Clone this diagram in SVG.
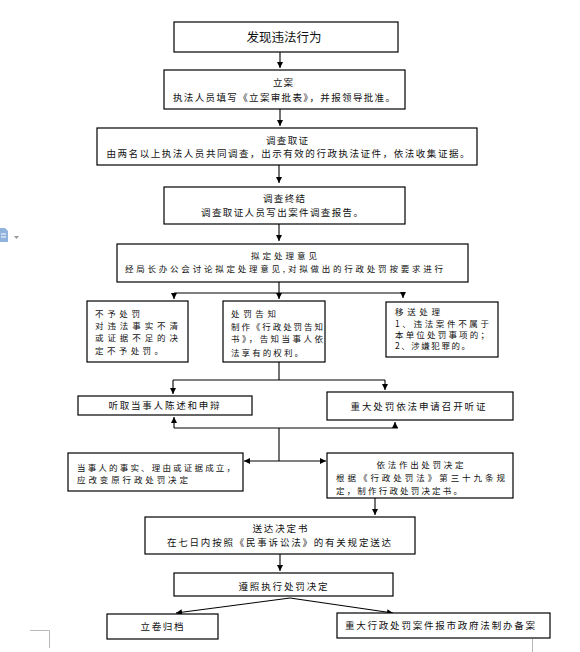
<svg xmlns="http://www.w3.org/2000/svg" width="580" height="652" viewBox="0 0 580 652">
<style>
.box{fill:#fff;stroke:#000;stroke-width:1.2}
.t{font-family:"Noto Sans CJK SC","Noto Sans",sans-serif;font-size:9.5px;fill:#111}
.s{font-size:8.5px}
.c{text-anchor:middle}
.l{text-anchor:start}
.ln{fill:none;stroke:#000;stroke-width:1.1}
.g{fill:none;stroke:#b8b8b8;stroke-width:1}
</style>
<defs>
<marker id="ah" viewBox="0 0 10 10" refX="10" refY="5" markerWidth="6" markerHeight="6" orient="auto" markerUnits="userSpaceOnUse">
<path d="M0,0 L10,5 L0,10 z" fill="#000"/>
</marker>
</defs>
<rect width="580" height="652" fill="#fff"/>
<g id="page-artifacts">
<path d="M0,228 h5 l3,3 v11 h-8 z" fill="#8fb3dd"/>
<path d="M1,234 h5 M1,237 h5" stroke="#fff" stroke-width="1"/>
<path d="M14,236 h5 l-2.5,3 z" fill="#999"/>
<path class="g" d="M30,630.5 H49.5 V648"/>
<path class="g" d="M532.5,639 V652"/>
</g>
<g id="connectors">
<path class="ln" d="M280,52 V68" marker-end="url(#ah)"/>
<path class="ln" d="M280,109 V126" marker-end="url(#ah)"/>
<path class="ln" d="M279,165 V183" marker-end="url(#ah)"/>
<path class="ln" d="M279,224 V241" marker-end="url(#ah)"/>
<path class="ln" d="M279,282 V293 M174,293 H403"/>
<path class="ln" d="M174,293 V299" marker-end="url(#ah)"/>
<path class="ln" d="M279,293 V299" marker-end="url(#ah)"/>
<path class="ln" d="M403,293 V298" marker-end="url(#ah)"/>
<path class="ln" d="M279,362 V380 M173,380 H385"/>
<path class="ln" d="M173,380 V394" marker-end="url(#ah)"/>
<path class="ln" d="M385,380 V390" marker-end="url(#ah)"/>
<path class="ln" d="M174,428 H398 M279,428 V461"/>
<path class="ln" d="M174,428 V417" marker-end="url(#ah)"/>
<path class="ln" d="M395,428 V422" marker-end="url(#ah)"/>
<path class="ln" d="M279,461 H244" marker-end="url(#ah)"/>
<path class="ln" d="M279,461 H326" marker-end="url(#ah)"/>
<path class="ln" d="M375,498 V515" marker-end="url(#ah)"/>
<path class="ln" d="M280,554 V571" marker-end="url(#ah)"/>
<path class="ln" d="M290,598 L176,613" marker-end="url(#ah)"/>
<path class="ln" d="M290,598 L393,613" marker-end="url(#ah)"/>
</g>
<g id="n1">
<rect class="box" x="174" y="22" width="224" height="30"/>
<text class="t c" x="284" y="42" style="font-size:12.5px" textLength="75" lengthAdjust="spacing">发现违法行为</text>
</g>
<g id="n2">
<rect class="box" x="164" y="70" width="241" height="39"/>
<text class="t c" x="283" y="86" textLength="20" lengthAdjust="spacing">立案</text>
<text class="t c" x="284" y="101" textLength="222" lengthAdjust="spacing">执法人员填写《立案审批表》，并报领导批准。</text>
</g>
<g id="n3">
<rect class="box" x="97" y="128" width="380" height="37"/>
<text class="t c" x="287" y="144" textLength="42" lengthAdjust="spacing">调查取证</text>
<text class="t c" x="288" y="157" textLength="363" lengthAdjust="spacing">由两名以上执法人员共同调查，出示有效的行政执法证件，依法收集证据。</text>
</g>
<g id="n4">
<rect class="box" x="164" y="187" width="241" height="37"/>
<text class="t c" x="284" y="202" textLength="42" lengthAdjust="spacing">调查终结</text>
<text class="t c" x="282" y="216" textLength="162" lengthAdjust="spacing">调查取证人员写出案件调查报告。</text>
</g>
<g id="n5">
<rect class="box" x="117" y="244" width="351" height="38"/>
<text class="t s c" x="284" y="259" textLength="66" lengthAdjust="spacing">拟定处理意见</text>
<text class="t s c" x="284" y="272" textLength="318" lengthAdjust="spacing">经局长办公会讨论拟定处理意见,对拟做出的行政处罚按要求进行</text>
</g>
<g id="n6a">
<rect class="box" x="87" y="301" width="101" height="61"/>
<text class="t s l" x="95" y="317" textLength="45" lengthAdjust="spacing">不予处罚</text>
<text class="t s l" x="95" y="329" textLength="83" lengthAdjust="spacing">对违法事实不清</text>
<text class="t s l" x="95" y="341" textLength="83" lengthAdjust="spacing">或证据不足的决</text>
<text class="t s l" x="95" y="354" textLength="68" lengthAdjust="spacing">定不予处罚。</text>
</g>
<g id="n6b">
<rect class="box" x="223" y="301" width="102" height="61"/>
<text class="t s l" x="231" y="317" textLength="45" lengthAdjust="spacing">处罚告知</text>
<text class="t s l" x="231" y="330" textLength="92" lengthAdjust="spacing">制作《行政处罚告知</text>
<text class="t s l" x="231" y="342" textLength="92" lengthAdjust="spacing">书》，告知当事人依</text>
<text class="t s l" x="231" y="356" textLength="72" lengthAdjust="spacing">法享有的权利。</text>
</g>
<g id="n6c">
<rect class="box" x="386" y="302" width="112" height="55"/>
<text class="t s l" x="395" y="315" textLength="45" lengthAdjust="spacing">移送处理</text>
<text class="t s l" x="395" y="326.5" textLength="94" lengthAdjust="spacing">1、违法案件不属于</text>
<text class="t s l" x="395" y="337.5" textLength="94" lengthAdjust="spacing">本单位处罚事项的；</text>
<text class="t s l" x="395" y="349" textLength="75" lengthAdjust="spacing">2、涉嫌犯罪的。</text>
</g>
<g id="n7a">
<rect class="box" x="78" y="396" width="174" height="19"/>
<text class="t c" x="164" y="409" textLength="111" lengthAdjust="spacing">听取当事人陈述和申辩</text>
</g>
<g id="n7b">
<rect class="box" x="327" y="392" width="186" height="28"/>
<text class="t c" x="418" y="410" textLength="135" lengthAdjust="spacing">重大处罚依法申请召开听证</text>
</g>
<g id="n8a">
<rect class="box" x="68" y="453" width="175" height="38"/>
<text class="t s l" x="77" y="470.5" textLength="158" lengthAdjust="spacing">当事人的事实、理由或证据成立，</text>
<text class="t s l" x="77" y="483" textLength="111" lengthAdjust="spacing">应改变原行政处罚决定</text>
</g>
<g id="n8b">
<rect class="box" x="327" y="453" width="186" height="45"/>
<text class="t s c" x="420" y="467.5" textLength="87" lengthAdjust="spacing">依法作出处罚决定</text>
<text class="t s l" x="336" y="480.5" textLength="169" lengthAdjust="spacing">根据《行政处罚法》第三十九条规</text>
<text class="t s l" x="336" y="493.5" textLength="126" lengthAdjust="spacing">定，制作行政处罚决定书。</text>
</g>
<g id="n9">
<rect class="box" x="145" y="517" width="270" height="37"/>
<text class="t c" x="280" y="532" textLength="55" lengthAdjust="spacing">送达决定书</text>
<text class="t c" x="279" y="546" textLength="224" lengthAdjust="spacing">在七日内按照《民事诉讼法》的有关规定送达</text>
</g>
<g id="n10">
<rect class="box" x="174" y="573" width="219" height="23"/>
<text class="t c" x="283" y="590" textLength="89" lengthAdjust="spacing">遵照执行处罚决定</text>
</g>
<g id="n11a">
<rect class="box" x="107" y="614" width="111" height="25"/>
<text class="t c" x="162" y="630" textLength="43" lengthAdjust="spacing">立卷归档</text>
</g>
<g id="n11b">
<rect class="box" x="337" y="613" width="213" height="25"/>
<text class="t c" x="440" y="629" textLength="190" lengthAdjust="spacing">重大行政处罚案件报市政府法制办备案</text>
</g>
</svg>
